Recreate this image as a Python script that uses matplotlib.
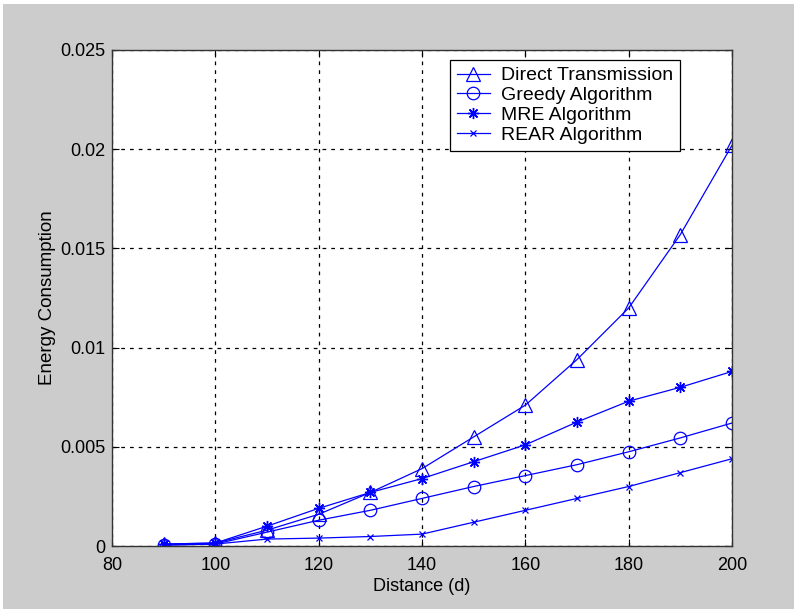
import matplotlib
matplotlib.use("Agg")
from matplotlib import pyplot as plt
from matplotlib.patches import Rectangle

distance = [90, 100, 110, 120, 130, 140, 150, 160, 170, 180, 190, 200]
direct = [0.0001, 0.00015, 0.0008, 0.0016, 0.0027, 0.0039, 0.0055, 0.0071, 0.0094, 0.0120, 0.0157, 0.0202]
greedy = [0.00005, 0.0001, 0.0007, 0.0013, 0.0018, 0.0024, 0.0030, 0.00355, 0.0041, 0.00475, 0.00545, 0.0062]
mre = [0.0001, 0.00015, 0.0010, 0.0019, 0.0027, 0.0034, 0.00425, 0.0051, 0.00625, 0.0073, 0.0080, 0.0088]
rear = [0.00005, 0.0001, 0.00035, 0.0004, 0.00048, 0.0006, 0.0012, 0.0018, 0.0024, 0.0030, 0.0037, 0.0044]

labels = ["Direct Transmission", "Greedy Algorithm", "MRE Algorithm", "REAR Algorithm"]
x_ticks = [80, 100, 120, 140, 160, 180, 200]
y_ticks = [0, 0.005, 0.01, 0.015, 0.02, 0.025]
y_ticklabels = ["0", "0.005", "0.01", "0.015", "0.02", "0.025"]

plt.rcParams['font.family'] = ['Liberation Sans', 'DejaVu Sans']
plt.rcParams['font.size'] = 13

fig = plt.figure(figsize=(7.97, 6.09), dpi=100, facecolor="white")
# grey window background with thin white margin
fig.patches.append(Rectangle((0.004, 0.0), 0.992, 0.994, transform=fig.transFigure,
                             facecolor="#cccccc", edgecolor="none", zorder=-10))
ax = fig.add_axes([0.1405, 0.1034, 0.778, 0.8145])

blue = "#0000ff"
ax.plot(distance, direct, color=blue, lw=0.9, marker="^", ms=10, mfc="none", mec=blue, mew=0.9, label=labels[0])
ax.plot(distance, greedy, color=blue, lw=0.9, marker="o", ms=9, mfc="none", mec=blue, mew=0.9, label=labels[1])
ax.plot(distance, mre, color=blue, lw=0.9, marker=(8, 2, 0), ms=8, mec=blue, mew=1.0, label=labels[2])
ax.plot(distance, rear, color=blue, lw=0.9, marker="x", ms=5, mec=blue, mew=0.9, label=labels[3])

ax.set_xlim(80, 200)
ax.set_ylim(0, 0.025)
ax.set_xticks(x_ticks)
ax.set_yticks(y_ticks)
ax.set_yticklabels(y_ticklabels)
ax.tick_params(direction="in", length=5, top=True, right=True, width=0.8, colors="black", labelsize=13)
ax.tick_params(axis="x", pad=8)
ax.tick_params(axis="y", pad=5)
ax.grid(True, color="black", linestyle=(0, (3, 4)), linewidth=0.9)
for s in ax.spines.values():
    s.set_linewidth(1.0)
    s.set_color("#333333")

ax.set_xlabel("Distance (d)", fontsize=13, labelpad=3)
ax.set_ylabel("Energy Consumption", fontsize=13.5, labelpad=3)

leg = ax.legend(loc="upper left", bbox_to_anchor=(0.545, 0.98), fancybox=False, framealpha=1,
                edgecolor="black", handlelength=1.7, borderpad=0.35, labelspacing=0.12,
                handletextpad=0.6, borderaxespad=0, fontsize=14)
leg.get_frame().set_linewidth(0.9)

fig.savefig("out.png", dpi=100, facecolor=fig.get_facecolor())
